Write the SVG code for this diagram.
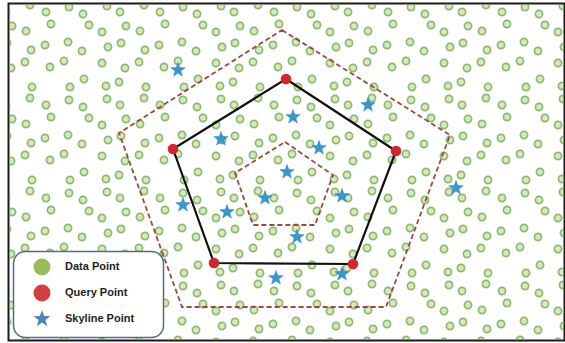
<svg xmlns="http://www.w3.org/2000/svg" xmlns:xlink="http://www.w3.org/1999/xlink" width="565" height="343" viewBox="0 0 565 343">
  <style>
    .dot { fill: #d6e9c3; stroke: #8cba69; stroke-width: 1.7; }
    .dashed { fill: none; stroke: #a0463a; stroke-width: 1.8; stroke-dasharray: 5 3; stroke-linejoin: miter; }
    .solid { fill: none; stroke: #111; stroke-width: 2.2; stroke-linejoin: round; }
    .query { fill: #d3262b; }
    .star { fill: #3598d0; stroke: #2a80b2; stroke-width: 0.5; }
    .legend-text { font-family: "Liberation Sans", Arial, sans-serif; font-weight: bold; font-size: 11px; fill: #1e1e1e; }
  </style>
  <defs>
    <circle id="d" r="3.6" class="dot"/>
    <path id="star" d="M0,-7.5 L1.764,-2.427 L7.133,-2.318 L2.853,0.927 L4.408,6.068 L0,3 L-4.408,6.068 L-2.853,0.927 L-7.133,-2.318 L-1.764,-2.427 Z"/>
    <pattern id="dots" x="0" y="0" width="114" height="93" patternUnits="userSpaceOnUse">
      <use xlink:href="#d" x="6" y="12"/><use xlink:href="#d" x="30" y="5"/><use xlink:href="#d" x="46" y="12"/>
      <use xlink:href="#d" x="69" y="7"/><use xlink:href="#d" x="83" y="14"/><use xlink:href="#d" x="107" y="6"/>
      <use xlink:href="#d" x="12" y="26"/><use xlink:href="#d" x="26" y="31"/><use xlink:href="#d" x="51" y="24"/>
      <use xlink:href="#d" x="89" y="25"/><use xlink:href="#d" x="102" y="32"/>
      <use xlink:href="#d" x="7" y="43"/><use xlink:href="#d" x="31" y="50"/><use xlink:href="#d" x="45" y="45"/>
      <use xlink:href="#d" x="68" y="42"/><use xlink:href="#d" x="82" y="51"/><use xlink:href="#d" x="108" y="47"/>
      <use xlink:href="#d" x="11" y="68"/><use xlink:href="#d" x="25" y="62"/><use xlink:href="#d" x="50" y="67"/>
      <use xlink:href="#d" x="64" y="61"/><use xlink:href="#d" x="102" y="63"/>
      <use xlink:href="#d" x="5" y="82"/><use xlink:href="#d" x="32" y="87"/>
      <use xlink:href="#d" x="70" y="87"/><use xlink:href="#d" x="84" y="79"/><use xlink:href="#d" x="106" y="86"/>
    </pattern>
  </defs>

  <rect x="0" y="0" width="565" height="343" fill="#ffffff"/>

  <g id="data-points">
    <rect x="10" y="5" width="553" height="334" fill="url(#dots)"/>
  </g>

  <g id="connectors">
    <polygon id="outer-region" class="dashed" points="282,30 450,135 386,307 182,307 119,133"/>
    <polygon id="query-polygon" class="solid" points="286,79 396,151 353,264 214,263 173,149"/>
    <polygon id="inner-region" class="dashed" points="285,142 333,175 315,225 253,225 235,173"/>
  </g>

  <g id="query-points">
    <circle class="query" cx="286" cy="79" r="5.3"/>
    <circle class="query" cx="396" cy="151" r="5.3"/>
    <circle class="query" cx="353" cy="264" r="5.3"/>
    <circle class="query" cx="214" cy="263" r="5.3"/>
    <circle class="query" cx="173" cy="149" r="5.3"/>
  </g>

  <g id="skyline-points">
    <use xlink:href="#star" class="star" x="178" y="70"/>
    <use xlink:href="#star" class="star" x="368" y="105"/>
    <use xlink:href="#star" class="star" x="293" y="117"/>
    <use xlink:href="#star" class="star" x="221" y="139"/>
    <use xlink:href="#star" class="star" x="319" y="148"/>
    <use xlink:href="#star" class="star" x="287" y="172"/>
    <use xlink:href="#star" class="star" x="342" y="196"/>
    <use xlink:href="#star" class="star" x="265" y="198"/>
    <use xlink:href="#star" class="star" x="456" y="188"/>
    <use xlink:href="#star" class="star" x="183" y="205"/>
    <use xlink:href="#star" class="star" x="227" y="212"/>
    <use xlink:href="#star" class="star" x="297" y="237"/>
    <use xlink:href="#star" class="star" x="276" y="278"/>
    <use xlink:href="#star" class="star" x="342" y="274"/>
  </g>

  <g id="legend">
    <rect x="13.5" y="251.5" width="150" height="86" rx="12" ry="12" fill="#ffffff" stroke="#4f6c8c" stroke-width="1.5"/>
    <circle cx="42" cy="267" r="8.5" fill="#9bbb59"/>
    <circle cx="42" cy="293" r="8.5" fill="#d0403f"/>
    <use xlink:href="#star" transform="translate(42,319) scale(1.2)" fill="#4f81bd"/>
    <text class="legend-text" x="65" y="270">Data Point</text>
    <text class="legend-text" x="65" y="296">Query Point</text>
    <text class="legend-text" x="65" y="322">Skyline Point</text>
  </g>

  <rect id="frame" x="8.5" y="3.5" width="556" height="337" fill="none" stroke="#1a1a1a" stroke-width="2"/>
</svg>
